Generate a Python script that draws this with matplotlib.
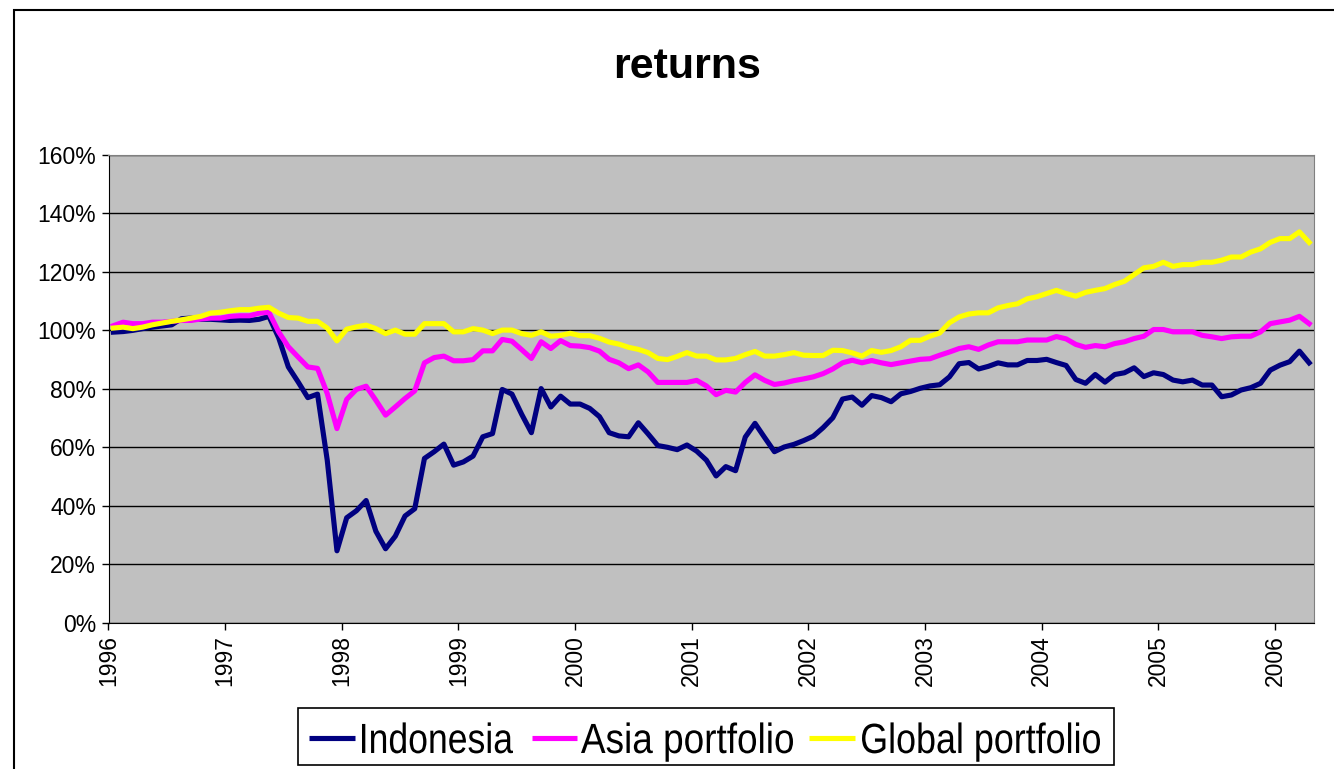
import numpy as np
import matplotlib.pyplot as plt
from matplotlib.patches import Rectangle, PathPatch
from matplotlib.lines import Line2D
from matplotlib.textpath import TextPath
from matplotlib.font_manager import FontProperties
from matplotlib.transforms import Affine2D
from matplotlib.ticker import PercentFormatter

# monthly index values (%), Jan 1996 - Apr 2006
indonesia = [
    99.4, 99.6, 100.0, 100.6, 101.1, 101.5, 101.9, 104.0, 104.2, 103.8, 103.8, 103.6,
    103.4, 103.5, 103.4, 103.8, 104.8, 97.5, 87.5, 82.4, 77.0, 78.2, 55.6, 24.6,
    35.9, 38.3, 41.8, 31.3, 25.3, 29.6, 36.5, 39.0, 56.2, 58.5, 61.1, 53.9,
    55.0, 57.0, 63.6, 64.7, 79.8, 78.2, 71.3, 65.0, 80.1, 73.8, 77.5, 74.8,
    74.8, 73.3, 70.5, 65.0, 63.9, 63.6, 68.4, 64.6, 60.6, 60.0, 59.2, 60.8,
    58.7, 55.6, 50.2, 53.4, 52.0, 63.5, 68.2, 63.3, 58.5, 60.1, 61.0, 62.3,
    63.8, 66.7, 70.1, 76.5, 77.2, 74.4, 77.7, 77.0, 75.6, 78.3, 79.1, 80.2,
    81.0, 81.4, 84.1, 88.6, 89.0, 86.8, 87.7, 88.9, 88.2, 88.2, 89.7, 89.7,
    90.1, 89.0, 88.0, 83.2, 81.9, 84.9, 82.3, 84.9, 85.5, 87.2, 84.2, 85.5,
    84.9, 83.0, 82.4, 83.0, 81.3, 81.3, 77.3, 77.9, 79.6, 80.4, 81.9, 86.4,
    88.1, 89.3, 92.9, 88.9,
]
asia = [
    101.6, 102.8, 102.3, 102.3, 102.8, 102.8, 103.1, 103.4, 103.4, 103.9, 104.2, 104.2,
    104.8, 105.0, 105.0, 105.9, 106.2, 99.5, 94.4, 90.9, 87.5, 87.0, 78.4, 66.4,
    76.4, 79.8, 80.9, 76.1, 71.0, 73.8, 76.7, 79.3, 88.9, 90.7, 91.2, 89.6,
    89.6, 90.0, 93.0, 93.0, 96.9, 96.3, 93.4, 90.4, 96.1, 93.8, 96.5, 94.8,
    94.6, 94.1, 92.9, 90.1, 88.9, 86.9, 88.2, 85.8, 82.2, 82.2, 82.2, 82.2,
    82.9, 81.0, 78.0, 79.5, 78.9, 82.2, 84.8, 82.9, 81.5, 82.0, 82.8, 83.4,
    84.1, 85.2, 86.8, 88.9, 89.8, 88.9, 89.7, 88.9, 88.3, 88.9, 89.5, 90.1,
    90.3, 91.5, 92.6, 93.8, 94.4, 93.5, 95.0, 96.1, 96.1, 96.1, 96.7, 96.7,
    96.7, 97.9, 97.1, 95.2, 94.2, 94.8, 94.4, 95.5, 96.1, 97.2, 98.0, 100.3,
    100.3, 99.5, 99.5, 99.5, 98.3, 97.8, 97.2, 97.8, 98.0, 98.0, 99.5, 102.3,
    102.9, 103.5, 104.8, 102.3,
]
global_pf = [
    100.8, 101.1, 100.6, 101.1, 101.9, 102.5, 103.1, 103.6, 104.2, 104.8, 105.9, 106.2,
    106.7, 107.1, 107.1, 107.6, 107.9, 105.9, 104.4, 104.2, 103.1, 103.1, 100.8, 96.4,
    100.4, 101.2, 101.8, 100.6, 98.9, 100.1, 98.7, 98.7, 102.3, 102.3, 102.3, 99.5,
    99.5, 100.6, 100.1, 98.9, 100.1, 100.1, 98.9, 98.3, 99.5, 98.0, 98.3, 99.0,
    98.2, 98.2, 97.3, 96.0, 95.3, 94.2, 93.5, 92.4, 90.4, 90.0, 91.1, 92.4,
    91.2, 91.2, 89.9, 89.9, 90.4, 91.7, 92.8, 91.2, 91.2, 91.7, 92.4, 91.5,
    91.4, 91.4, 93.2, 93.1, 92.3, 91.2, 93.1, 92.5, 93.1, 94.4, 96.6, 96.6,
    98.0, 99.1, 102.6, 104.6, 105.6, 106.0, 106.0, 107.7, 108.5, 109.1, 110.8, 111.5,
    112.6, 113.7, 112.6, 111.7, 113.0, 113.7, 114.3, 115.7, 116.8, 119.1, 121.4, 121.9,
    123.3, 121.9, 122.5, 122.5, 123.3, 123.3, 124.0, 125.1, 125.1, 126.8, 127.9, 130.1,
    131.4, 131.4, 133.7, 130.1,
]
years = list(range(1996, 2007))
labels = ['Indonesia', 'Asia portfolio', 'Global portfolio']
colors = ['#000080', '#ff00ff', '#ffff00']

# points sit mid-month
t = 1996 + (np.arange(len(indonesia)) + 0.5) / 12

W, H = 1334, 769
fig = plt.figure(figsize=(W / 100, H / 100), dpi=100)
ax = fig.add_axes([108.5 / W, 1 - 622.7 / H, (1314 - 108.5) / W, (622.7 - 155) / H])
ax.set_facecolor('#c0c0c0')

for series, lab, c in zip([indonesia, asia, global_pf], labels, colors):
    ax.plot(t, series, color=c, lw=3.7, label=lab, solid_joinstyle='round')

ax.set_xlim(1996, 1996 + 124 / 12)
ax.set_ylim(0, 160)
ax.set_yticks(range(0, 161, 20))
ax.yaxis.set_major_formatter(PercentFormatter(decimals=0))
ax.set_xticks(years)
ax.set_xticklabels([str(y) for y in years], rotation=90)
ax.grid(axis='y', color='black', lw=1)
ax.set_axisbelow(True)

for side in ['top', 'right']:
    ax.spines[side].set_color('#808080')
for side in ['left', 'bottom']:
    ax.spines[side].set_color('black')
ax.tick_params(direction='out', length=5, width=1, color='black',
               labelsize=16.5, pad=4)
for lab in ax.get_xticklabels() + ax.get_yticklabels():
    lab.set_family('Liberation Sans')

fig.text(687 / W, 1 - 67 / H, 'returns', ha='center', va='center',
         fontsize=31, fontweight='bold', family='Liberation Sans')

# legend drawn by hand: the original uses a narrow, tall face
px = Affine2D().scale(1 / W, 1 / H) + fig.transFigure   # pixel coords, origin bottom-left
fig.add_artist(Rectangle((298, H - 765), 1114 - 298, 765 - 708, transform=px,
                         fill=True, fc='white', ec='black', lw=1.2))
handle_x = [(309, 355), (532, 577), (809, 855)]
text_x = [(362, 513), (581, 793), (862, 1100)]
fp = FontProperties(family='Liberation Sans')
for lab, c, (h0, h1), (x0, x1) in zip(labels, colors, handle_x, text_x):
    fig.add_artist(Line2D([h0, h1], [H - 738, H - 738], color=c, lw=3.7,
                          transform=px, solid_capstyle='butt'))
    tp = TextPath((0, 0), lab, size=41, prop=fp)
    ext = tp.get_extents()
    sx = (x1 - x0) / ext.width
    tr = Affine2D().translate(-ext.x0, 0).scale(sx, 1.03).translate(x0, H - 753)
    fig.add_artist(PathPatch(tr.transform_path(tp), fc='black', ec='none', transform=px))

# outer chart border (runs off the right/bottom edge)
fig.add_artist(Rectangle((14 / W, -0.1), 1.2, 1.1 - 10 / H, transform=fig.transFigure,
                         fill=False, ec='black', lw=1.5))

fig.savefig('out.png', dpi=100)
